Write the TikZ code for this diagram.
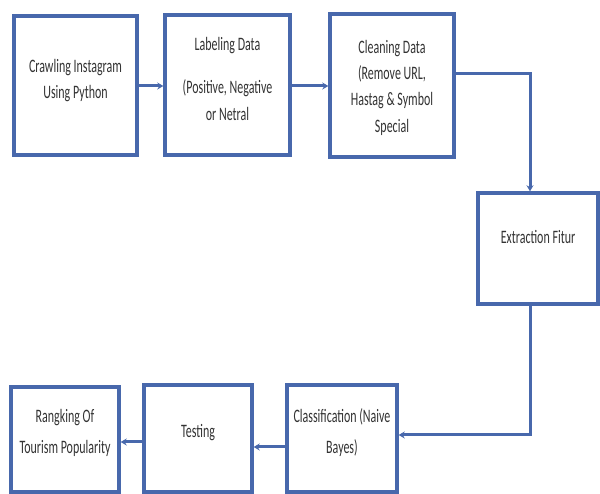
\documentclass[tikz,border=0pt]{standalone}
\usepackage{fontspec}
\setmainfont{Carlito}
\usepackage{graphicx}
\usetikzlibrary{arrows.meta}
\definecolor{boxblue}{RGB}{72,104,172}
\newcommand{\sqt}[2][26pt]{\scalebox{0.63}[1]{\fontsize{19}{#1}\selectfont\begin{tabular}{@{}c@{}}#2\end{tabular}}}
\begin{document}
\begin{tikzpicture}[x=1pt,y=1pt,
  box/.style={draw=boxblue, line width=3.4pt, fill=white, inner sep=0pt, rectangle},
  txt/.style={inner sep=0pt, text=black!80},
  arr/.style={draw=boxblue, line width=3pt, -{Stealth[length=6pt,width=7pt]}}]
\useasboundingbox (0,0) rectangle (600,494);
% boxes
\node[box, minimum width=123pt, minimum height=139pt] (b1) at (75.5,408.5) {};
\node[box, minimum width=125pt, minimum height=140pt] (b2) at (227.5,409) {};
\node[box, minimum width=124pt, minimum height=143pt] (b3) at (392,408.5) {};
\node[box, minimum width=120pt, minimum height=111pt] (b4) at (538,245.5) {};
\node[box, minimum width=110pt, minimum height=107pt] (b7) at (342,55.5) {};
\node[box, minimum width=108pt, minimum height=107pt] (b6) at (198,55.5) {};
\node[box, minimum width=108pt, minimum height=105pt] (b5) at (65,54.5) {};
% texts
\node[txt] (t1) at (75.5,414) {\sqt{Crawling Instagram\\Using Python}};
\node[txt] (t2) at (227.5,414) {\sqt[27pt]{Labeling Data\\[16pt](Positive, Negative\\or Netral}};
\node[txt] (t3) at (392,406.5) {\sqt[26.3pt]{Cleaning Data\\(Remove URL,\\Hastag \& Symbol\\Special}};
\node[txt] (t4) at (538,256) {\sqt{Extraction Fitur}};
\node[txt] (t7) at (342,62.5) {\sqt[31pt]{Classification (Naive\\Bayes)}};
\node[txt] (t6) at (198,62) {\sqt{Testing}};
\node[txt] (t5) at (65,62.5) {\sqt[31pt]{Rangking Of\\Tourism Popularity}};
% connectors
\coordinate (k1) at (530,420);
\coordinate (k2) at (530,59);
\draw[arr] ([yshift=-0.5pt]b1.east) -- ([yshift=-0.5pt]b1.east -| b2.west);
\draw[arr] ([yshift=-1pt]b2.east) -- ([yshift=-1pt]b2.east -| b3.west);
\draw[arr] (b3.east |- k1) -- (k1) -- (b4.north -| k1);
\draw[arr] (b4.south -| k2) -- (k2) -- (b7.east |- k2);
\draw[arr] ([yshift=-8.5pt]b7.west) -- ([yshift=-8.5pt]b7.west -| b6.east);
\draw[arr] ([yshift=-3.5pt]b6.west) -- ([yshift=-3.5pt]b6.west -| b5.east);
\end{tikzpicture}
\end{document}
